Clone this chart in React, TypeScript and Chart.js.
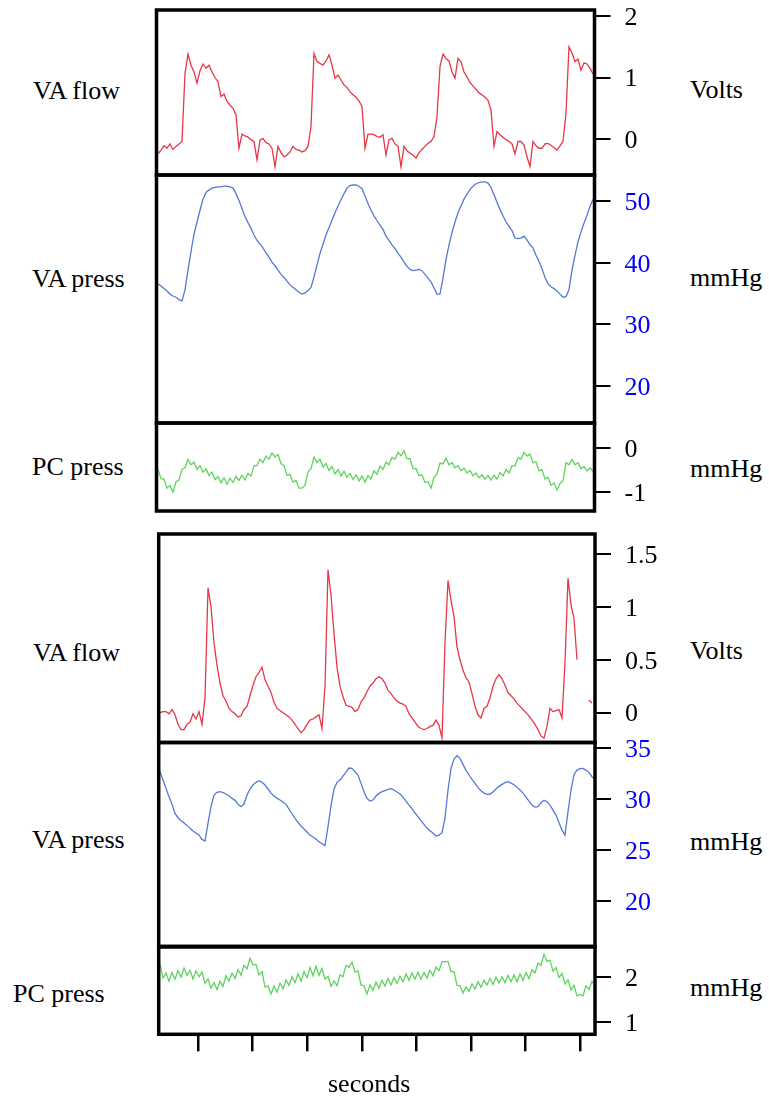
import React, { useEffect, useRef } from "react";
import { Chart, registerables } from "chart.js";

Chart.register(...registerables);

// ---- sampling (seconds) ----
const DT = 0.055; // sample interval, s
const T0_TOP = 0.27;
const T0_BOTTOM = 0.3;
const X_RANGE_TOP = [0.2425, 8.2725];
const X_RANGE_BOTTOM = [0.276, 8.275];
const X_TICKS = [1, 2, 3, 4, 5, 6, 7, 8];

// ---- top group ----
const TOP_VA_FLOW = [
  -0.24, -0.18, -0.11, -0.15, -0.08, -0.17, -0.12, -0.08, -0.04, 1.07,
  1.38, 1.2, 1.09, 0.91, 1.11, 1.22, 1.15, 1.2, 1.09, 1.0,
  0.93, 0.69, 0.73, 0.61, 0.55, 0.5, 0.39, -0.15, 0.08, 0.05,
  0.03, -0.01, -0.04, -0.34, -0.02, 0.01, -0.06, -0.08, -0.15, -0.45,
  -0.12, -0.22, -0.29, -0.26, -0.21, -0.12, -0.17, -0.18, -0.21, -0.19,
  -0.12, 0.2, 1.39, 1.26, 1.23, 1.2, 1.27, 1.37, 1.2, 0.99,
  1.04, 0.96, 0.88, 0.84, 0.77, 0.72, 0.68, 0.62, 0.53, -0.15,
  0.08, 0.08, 0.07, 0.04, 0.03, 0.07, -0.26, -0.01, 0.01, -0.08,
  -0.12, -0.45, -0.12, -0.19, -0.23, -0.26, -0.31, -0.22, -0.17, -0.12,
  -0.07, -0.04, 0.04, 0.36, 1.18, 1.38, 1.31, 1.27, 1.09, 0.99,
  1.31, 1.26, 1.09, 1.01, 0.92, 0.86, 0.81, 0.75, 0.72, 0.68,
  0.63, 0.47, -0.12, 0.12, 0.07, 0.03, -0.01, -0.04, -0.08, -0.24,
  -0.04, -0.04, -0.1, -0.29, -0.45, -0.04, -0.11, -0.15, -0.15, -0.08,
  -0.07, -0.1, -0.14, -0.18, -0.11, -0.04, 0.42, 1.5, 1.4, 1.26,
  1.3, 1.12, 1.24, 1.22, 1.15, 1.06,
];
const TOP_VA_PRESS = [
  36.6, 36.2, 35.8, 35.4, 34.9, 34.6, 34.4, 34.0, 33.8, 35.6,
  38.8, 41.8, 44.6, 46.6, 48.5, 50.3, 51.4, 51.8, 52.1, 52.2,
  52.3, 52.3, 52.4, 52.4, 52.3, 52.1, 51.2, 50.1, 48.8, 47.5,
  46.5, 45.6, 44.5, 43.6, 43.0, 42.4, 41.6, 40.9, 40.1, 39.5,
  38.8, 38.1, 37.6, 37.0, 36.4, 36.0, 35.6, 35.2, 34.9, 35.1,
  35.5, 36.0, 37.7, 39.6, 41.5, 43.0, 44.5, 45.7, 46.9, 48.1,
  49.2, 50.2, 51.2, 52.1, 52.5, 52.6, 52.6, 52.4, 52.0, 50.8,
  49.6, 48.5, 47.6, 46.8, 46.1, 45.4, 44.3, 43.6, 42.9, 42.3,
  41.5, 40.9, 40.1, 39.4, 38.9, 38.7, 38.8, 38.9, 38.7, 38.1,
  37.5, 36.9, 35.9, 34.9, 34.9, 37.5, 40.5, 42.9, 44.9, 46.6,
  48.1, 49.2, 50.3, 51.1, 51.9, 52.4, 52.8, 53.0, 53.1, 53.1,
  52.9, 52.2, 51.0, 49.8, 48.6, 47.6, 46.6, 45.9, 45.2, 44.0,
  43.9, 44.0, 44.3, 43.7, 42.9, 42.4, 41.2, 40.2, 39.0, 37.6,
  36.6, 36.1, 35.8, 35.4, 34.9, 34.4, 34.5, 35.6, 38.8, 41.2,
  43.4, 45.0, 46.4, 47.7, 49.1, 50.3,
];
const TOP_PC_PRESS = [
  -0.49, -0.7, -0.71, -0.92, -0.86, -1.01, -0.77, -0.73, -0.48, -0.45,
  -0.26, -0.38, -0.32, -0.49, -0.4, -0.55, -0.47, -0.63, -0.55, -0.72,
  -0.65, -0.79, -0.68, -0.83, -0.69, -0.79, -0.65, -0.74, -0.62, -0.73,
  -0.58, -0.64, -0.4, -0.4, -0.25, -0.33, -0.18, -0.25, -0.11, -0.2,
  -0.14, -0.35, -0.4, -0.62, -0.6, -0.78, -0.74, -0.92, -0.92, -0.85,
  -0.55, -0.47, -0.2, -0.33, -0.25, -0.43, -0.35, -0.51, -0.42, -0.59,
  -0.49, -0.64, -0.53, -0.67, -0.58, -0.72, -0.61, -0.75, -0.64, -0.78,
  -0.63, -0.71, -0.52, -0.6, -0.41, -0.49, -0.32, -0.38, -0.21, -0.25,
  -0.09, -0.17, -0.06, -0.24, -0.24, -0.47, -0.47, -0.63, -0.61, -0.79,
  -0.77, -0.92, -0.67, -0.59, -0.34, -0.36, -0.23, -0.38, -0.33, -0.45,
  -0.4, -0.52, -0.46, -0.57, -0.51, -0.63, -0.57, -0.68, -0.61, -0.71,
  -0.63, -0.73, -0.62, -0.71, -0.56, -0.64, -0.49, -0.57, -0.4, -0.41,
  -0.22, -0.25, -0.09, -0.18, -0.13, -0.33, -0.31, -0.52, -0.49, -0.71,
  -0.67, -0.85, -0.8, -0.96, -0.81, -0.75, -0.33, -0.38, -0.26, -0.38,
  -0.33, -0.47, -0.42, -0.52, -0.45, -0.54,
];

// ---- bottom group ----
const BOT_VA_FLOW = [
  0.0, 0.01, 0.01, -0.01, 0.03, -0.02, -0.11, -0.16, -0.16, -0.11,
  -0.09, -0.01, -0.06, 0.01, -0.11, 0.14, 1.18, 1.0, 0.66, 0.45,
  0.28, 0.16, 0.11, 0.04, 0.01, -0.01, -0.04, -0.03, 0.03, 0.06,
  0.16, 0.26, 0.34, 0.38, 0.43, 0.31, 0.25, 0.19, 0.1, 0.04,
  0.02, 0.0, -0.02, -0.04, -0.07, -0.11, -0.15, -0.19, -0.16, -0.11,
  -0.07, -0.06, -0.04, -0.02, -0.15, 0.25, 1.35, 1.11, 0.75, 0.43,
  0.25, 0.15, 0.07, 0.06, 0.05, 0.01, 0.03, 0.1, 0.14, 0.2,
  0.25, 0.28, 0.32, 0.34, 0.32, 0.28, 0.21, 0.18, 0.14, 0.11,
  0.09, 0.08, 0.06, -0.01, -0.05, -0.09, -0.13, -0.15, -0.16, -0.15,
  -0.13, -0.12, -0.07, -0.12, -0.24, 0.66, 1.25, 1.06, 0.91, 0.62,
  0.5, 0.4, 0.33, 0.29, 0.18, 0.06, -0.02, -0.05, 0.04, 0.06,
  0.14, 0.25, 0.32, 0.36, 0.32, 0.26, 0.19, 0.16, 0.13, 0.09,
  0.06, 0.03, 0.0, -0.03, -0.07, -0.11, -0.16, -0.22, -0.24, -0.13,
  0.04, 0.01, 0.02, 0.03, -0.05, 0.47, 1.27, 1.02, 0.89, 0.5,
  null, null, null, 0.12, 0.09, null,
];
const BOT_VA_PRESS = [
  32.65, 31.84, 31.02, 30.21, 29.46, 28.57, 28.15, 27.86, 27.63, 27.4,
  27.11, 26.85, 26.65, 26.45, 26.03, 25.87, 27.6, 29.23, 30.37, 30.63,
  30.7, 30.6, 30.47, 30.27, 30.04, 29.85, 29.46, 29.23, 29.49, 30.37,
  30.96, 31.35, 31.61, 31.77, 31.61, 31.35, 30.96, 30.56, 30.27, 30.07,
  29.88, 29.68, 29.46, 29.0, 28.54, 28.09, 27.69, 27.34, 27.04, 26.75,
  26.45, 26.26, 26.06, 25.8, 25.61, 25.41, 27.27, 29.32, 30.96, 31.61,
  31.84, 32.23, 32.62, 33.01, 32.98, 32.65, 32.33, 31.51, 30.69, 30.04,
  29.78, 29.88, 30.27, 30.53, 30.7, 30.79, 30.92, 30.99, 30.86, 30.66,
  30.47, 30.17, 29.78, 29.39, 29.03, 28.61, 28.25, 27.86, 27.5, 27.11,
  26.88, 26.65, 26.36, 26.45, 26.68, 28.09, 30.86, 32.98, 33.89, 34.22,
  33.96, 33.37, 32.78, 32.33, 31.9, 31.51, 31.12, 30.79, 30.56, 30.43,
  30.47, 30.66, 30.96, 31.22, 31.41, 31.58, 31.67, 31.54, 31.38, 31.12,
  30.86, 30.56, 30.17, 29.78, 29.39, 29.19, 29.23, 29.62, 29.85, 29.72,
  29.39, 28.9, 28.41, 27.66, 26.94, 26.45, 28.74, 30.86, 32.39, 32.81,
  32.95, 32.98, 32.81, 32.59, 32.16, 31.93,
];
const BOT_PC_PRESS = [
  2.28, 1.97, 2.08, 1.9, 2.09, 1.95, 2.13, 1.99, 2.19, 2.03,
  2.14, 1.95, 2.13, 2.0, 2.1, 1.85, 1.95, 1.75, 1.87, 1.72,
  1.9, 1.79, 2.02, 1.9, 2.08, 1.96, 2.16, 2.03, 2.25, 2.17,
  2.4, 2.26, 2.27, 2.04, 2.11, 1.77, 1.8, 1.62, 1.8, 1.66,
  1.86, 1.73, 1.93, 1.81, 2.0, 1.87, 2.06, 1.9, 2.11, 1.98,
  2.2, 2.02, 2.23, 2.03, 2.18, 1.95, 2.01, 1.79, 1.91, 1.8,
  2.04, 2.0, 2.25, 2.21, 2.32, 2.1, 2.13, 1.82, 1.8, 1.62,
  1.82, 1.7, 1.88, 1.75, 1.92, 1.79, 1.96, 1.82, 1.98, 1.85,
  2.01, 1.89, 2.06, 1.92, 2.08, 1.95, 2.1, 1.94, 2.09, 1.97,
  2.14, 2.02, 2.21, 2.13, 2.33, 2.33, 2.33, 2.11, 2.11, 1.81,
  1.8, 1.64, 1.78, 1.68, 1.84, 1.73, 1.89, 1.77, 1.92, 1.82,
  1.96, 1.83, 1.99, 1.86, 2.0, 1.87, 2.03, 1.89, 2.04, 1.89,
  2.06, 1.92, 2.09, 1.96, 2.15, 2.08, 2.3, 2.25, 2.49, 2.34,
  2.36, 2.12, 2.2, 1.98, 2.07, 1.84, 1.93, 1.71, 1.81, 1.58,
  1.61, 1.58, 1.8, 1.72, 1.9, 1.79,
];

// ---- axis ticks ----
const TICKS_TOP_FLOW = [0, 1, 2];
const TICKS_TOP_PRESS = [20, 30, 40, 50];
const TICKS_TOP_PC = [-1, 0];
const TICKS_BOT_FLOW = [0, 0.5, 1, 1.5];
const TICKS_BOT_PRESS = [20, 25, 30, 35];
const TICKS_BOT_PC = [1, 2];

const LEFT_LABELS = ["VA flow", "VA press", "PC press", "VA flow", "VA press", "PC press"];
const UNIT_LABELS = ["Volts", "mmHg", "mmHg", "Volts", "mmHg", "mmHg"];
const X_TITLE = "seconds";

const RED = "rgb(230,55,70)";
const BLUE = "rgb(85,120,215)";
const GREEN = "rgb(95,210,95)";
const TICK_BLUE = "#0000ff";
const FONT = "'Liberation Serif', 'Times New Roman', serif";

const AXW = 80;
const CANVAS_LEFT = 130;
const CANVAS_W = 560;
const MARGIN = 40;

const framePlugin = {
  id: "frame",
  afterDraw(chart: any) {
    const { ctx, chartArea: a } = chart;
    ctx.save();
    ctx.strokeStyle = "#000";
    ctx.lineWidth = 3.5;
    ctx.strokeRect(a.left, a.top, a.right - a.left, a.bottom - a.top);
    ctx.restore();
  },
};

type Box = { left: number; right: number; top: number; bottom: number };

function Panel(props: {
  box: Box;
  yMin: number;
  yMax: number;
  yTicks: number[];
  tickColor: string;
  values: (number | null)[];
  color: string;
  t0: number;
  xRange: number[];
  xTicks?: number[];
}) {
  const ref = useRef<HTMLCanvasElement>(null);
  const { box, yMin, yMax, yTicks, tickColor, values, color, t0, xRange, xTicks } = props;
  const showX = !!xTicks;
  const extraBottom = showX ? 20 : 0;
  const canvasTop = Math.floor(box.top) - MARGIN;
  const canvasH = Math.ceil(box.bottom) + MARGIN + extraBottom - canvasTop;

  useEffect(() => {
    const canvas = ref.current!;
    const padding = {
      left: box.left - CANVAS_LEFT,
      top: box.top - canvasTop,
      right: CANVAS_W - AXW - (box.right - CANVAS_LEFT),
      bottom: canvasH - extraBottom - (box.bottom - canvasTop),
    };
    const chart = new Chart(canvas, {
      type: "line",
      data: {
        datasets: [
          {
            data: values.map((v, i) => ({ x: t0 + i * DT, y: v })) as any,
            borderColor: color,
            borderWidth: 1.3,
            pointRadius: 0,
            fill: false,
            spanGaps: false,
            tension: 0,
          },
        ],
      },
      options: {
        responsive: false,
        animation: false,
        devicePixelRatio: 1,
        events: [],
        layout: { padding },
        plugins: { legend: { display: false }, tooltip: { enabled: false } },
        scales: {
          x: {
            type: "linear",
            min: xRange[0],
            max: xRange[1],
            display: showX,
            afterBuildTicks: (s: any) => {
              s.ticks = (xTicks || []).map((v) => ({ value: v }));
            },
            afterFit: (s: any) => {
              s.height = extraBottom;
            },
            grid: { drawOnChartArea: false, drawTicks: true, tickLength: 17, color: "#000", lineWidth: 2.5 },
            border: { display: false },
            ticks: { display: false },
          },
          y: {
            type: "linear",
            position: "right",
            min: yMin,
            max: yMax,
            afterBuildTicks: (s: any) => {
              s.ticks = yTicks.map((v) => ({ value: v }));
            },
            afterFit: (s: any) => {
              s.width = AXW;
            },
            grid: { drawOnChartArea: false, drawTicks: true, tickLength: 16, color: "#000", lineWidth: 2 },
            border: { display: false },
            ticks: {
              color: tickColor,
              font: { family: FONT, size: 26 },
              padding: 14,
              crossAlign: "near",
              labelOffset: 2,
              callback: (v: any) => String(v),
            },
          },
        },
      } as any,
      plugins: [framePlugin],
    });
    return () => chart.destroy();
  }, []);

  return (
    <canvas
      ref={ref}
      width={CANVAS_W}
      height={canvasH}
      style={{ position: "absolute", left: CANVAS_LEFT, top: canvasTop, width: CANVAS_W, height: canvasH }}
    />
  );
}

const textStyle = (x: number, baseline: number): React.CSSProperties => ({
  position: "absolute",
  left: x,
  top: baseline - 21.8,
  fontFamily: FONT,
  fontSize: 26,
  lineHeight: "26px",
  color: "#000",
  whiteSpace: "nowrap",
});

export default function App() {
  const TL = 156.5, TR = 594.5, BL = 158.7, BR = 595;
  const leftPos = [
    [33, 99.3], [32, 288], [32, 476], [33, 662], [32, 849], [13, 1003],
  ];
  const unitPos = [99, 287, 478, 660, 851, 997];
  return (
    <div
      style={{
        position: "absolute",
        left: 0,
        top: 0,
        width: 769,
        height: 1102,
        overflow: "hidden",
        background: "#fff",
      }}
    >
      <Panel box={{ left: TL, right: TR, top: 10, bottom: 175 }} yMin={-0.585} yMax={2.098} yTicks={TICKS_TOP_FLOW}
        tickColor="#000" values={TOP_VA_FLOW} color={RED} t0={T0_TOP} xRange={X_RANGE_TOP} />
      <Panel box={{ left: TL, right: TR, top: 175, bottom: 423 }} yMin={14.0} yMax={54.22} yTicks={TICKS_TOP_PRESS}
        tickColor={TICK_BLUE} values={TOP_VA_PRESS} color={BLUE} t0={T0_TOP} xRange={X_RANGE_TOP} />
      <Panel box={{ left: TL, right: TR, top: 423, bottom: 511 }} yMin={-1.445} yMax={0.583} yTicks={TICKS_TOP_PC}
        tickColor="#000" values={TOP_PC_PRESS} color={GREEN} t0={T0_TOP} xRange={X_RANGE_TOP} />
      <Panel box={{ left: BL, right: BR, top: 534, bottom: 742.5 }} yMin={-0.282} yMax={1.689} yTicks={TICKS_BOT_FLOW}
        tickColor="#000" values={BOT_VA_FLOW} color={RED} t0={T0_BOTTOM} xRange={X_RANGE_BOTTOM} />
      <Panel box={{ left: BL, right: BR, top: 742.5, bottom: 946.3 }} yMin={15.57} yMax={35.51} yTicks={TICKS_BOT_PRESS}
        tickColor={TICK_BLUE} values={BOT_VA_PRESS} color={BLUE} t0={T0_BOTTOM} xRange={X_RANGE_BOTTOM} />
      <Panel box={{ left: BL, right: BR, top: 947, bottom: 1034.3 }} yMin={0.737} yMax={2.651} yTicks={TICKS_BOT_PC}
        tickColor="#000" values={BOT_PC_PRESS} color={GREEN} t0={T0_BOTTOM} xRange={X_RANGE_BOTTOM} xTicks={X_TICKS} />
      {LEFT_LABELS.map((t, i) => (
        <div key={"l" + i} style={textStyle(leftPos[i][0], leftPos[i][1])}>{t}</div>
      ))}
      {UNIT_LABELS.map((t, i) => (
        <div key={"u" + i} style={textStyle(690, unitPos[i])}>{t}</div>
      ))}
      <div style={textStyle(328, 1093)}>{X_TITLE}</div>
    </div>
  );
}
